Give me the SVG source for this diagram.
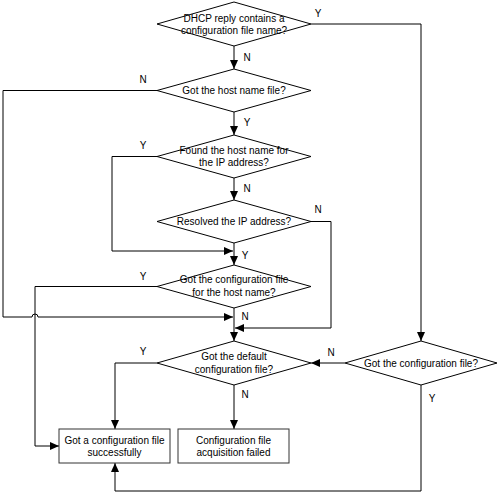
<svg xmlns="http://www.w3.org/2000/svg" width="500" height="494" viewBox="0 0 500 494">
<style>
.shape{fill:#fff;stroke:#000;stroke-width:1}
.box{fill:#fff;stroke:#333;stroke-width:1}
.t{font-family:"Liberation Sans",Arial,sans-serif;font-size:10px;fill:#000;text-anchor:middle}
.c{fill:none;stroke:#000;stroke-width:1}
.a{marker-end:url(#ah)}
</style>
<defs>
<marker id="ah" markerUnits="userSpaceOnUse" markerWidth="9" markerHeight="8" refX="9" refY="4" orient="auto">
<path d="M0,0 L9,4 L0,8 Z" fill="#000"/>
</marker>
</defs>
<rect width="500" height="494" fill="#fff"/>
<g id="connectors">
<path class="c a" d="M234,46 V69"/>
<path class="c a" d="M234,112 V135"/>
<path class="c a" d="M234,178 V200"/>
<path class="c a" d="M234,243 V265"/>
<path class="c a" d="M234,308 V341"/>
<path class="c a" d="M234,385 V429"/>
<path class="c a" d="M157,156.5 H112 V251 H233"/>
<path class="c a" d="M157,90.5 H3 V317 H32 A3,3 0 0 1 38,317 H233"/>
<path class="c a" d="M311,221.5 H331 V328 H235"/>
<path class="c a" d="M157,286.5 H35 V446 H59"/>
<path class="c a" d="M311,24 H421 V341"/>
<path class="c a" d="M345,363 H311"/>
<path class="c a" d="M421,385 V491 H115 V463"/>
<path class="c a" d="M157,363 H115 V429"/>
<text class="t" x="318" y="16.5">Y</text>
<text class="t" x="247" y="60.5">N</text>
<text class="t" x="143" y="82.5">N</text>
<text class="t" x="247" y="126">Y</text>
<text class="t" x="143" y="148.5">Y</text>
<text class="t" x="247" y="192">N</text>
<text class="t" x="318" y="212.5">N</text>
<text class="t" x="245" y="258.5">Y</text>
<text class="t" x="143" y="279.5">Y</text>
<text class="t" x="245" y="319.5">N</text>
<text class="t" x="143" y="355">Y</text>
<text class="t" x="331" y="355.5">N</text>
<text class="t" x="245" y="398">N</text>
<text class="t" x="432" y="401.5">Y</text>
</g>
<g id="d1">
<polygon class="shape" points="234,2 311,24 234,46 157,24"/>
<text class="t" x="234" y="21.5">DHCP reply contains a</text>
<text class="t" x="234" y="33.5">configuration file name?</text>
</g>
<g id="d2">
<polygon class="shape" points="234,69 311,90.5 234,112 157,90.5"/>
<text class="t" x="234" y="94">Got the host name file?</text>
</g>
<g id="d3">
<polygon class="shape" points="234,135 311,156.5 234,178 157,156.5"/>
<text class="t" x="234" y="154">Found the host name for</text>
<text class="t" x="234" y="166">the IP address?</text>
</g>
<g id="d4">
<polygon class="shape" points="234,200 311,221.5 234,243 157,221.5"/>
<text class="t" x="234" y="225">Resolved the IP address?</text>
</g>
<g id="d5">
<polygon class="shape" points="234,265 311,286.5 234,308 157,286.5"/>
<text class="t" x="234" y="283">Got the configuration file</text>
<text class="t" x="234" y="295.5">for the host name?</text>
</g>
<g id="d6">
<polygon class="shape" points="234,341 311,363 234,385 157,363"/>
<text class="t" x="234" y="360">Got the default</text>
<text class="t" x="234" y="372.5">configuration file?</text>
</g>
<g id="d7">
<polygon class="shape" points="421,341 497,363 421,385 345,363"/>
<text class="t" x="421" y="366.5">Got the configuration file?</text>
</g>
<g id="b1">
<rect class="box" x="59" y="429" width="111" height="34"/>
<text class="t" x="114.5" y="443.5">Got a configuration file</text>
<text class="t" x="114.5" y="455.5">successfully</text>
</g>
<g id="b2">
<rect class="box" x="178" y="429" width="111" height="34"/>
<text class="t" x="233.5" y="443.5">Configuration file</text>
<text class="t" x="233.5" y="455.5">acquisition failed</text>
</g>
</svg>
